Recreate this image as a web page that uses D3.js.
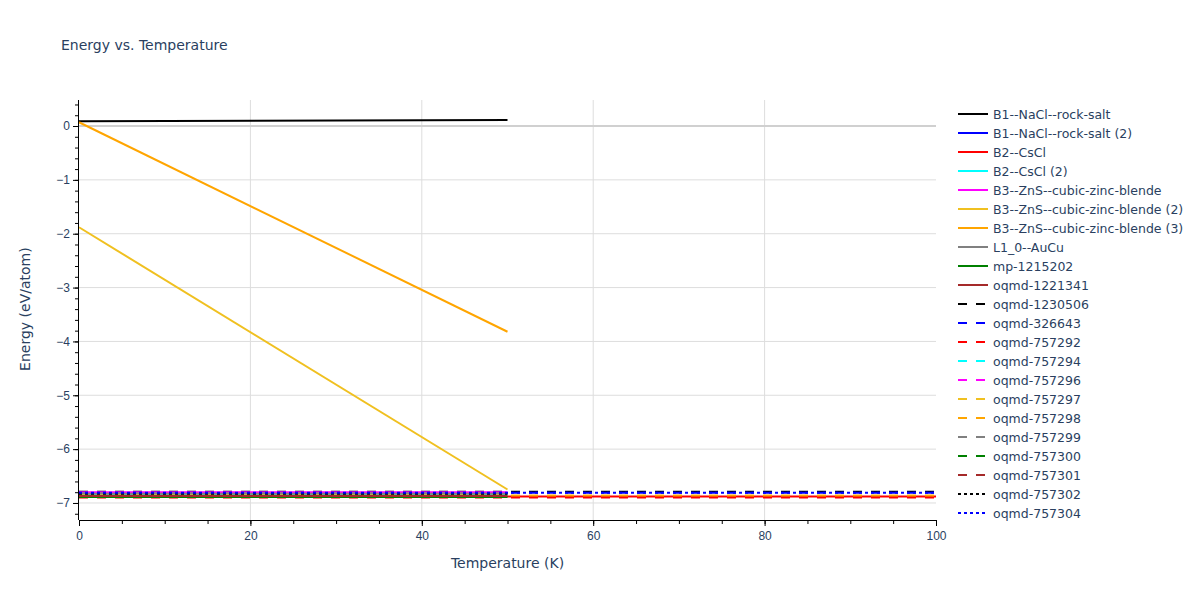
<!DOCTYPE html>
<html>
<head>
<meta charset="utf-8">
<script src="https://cdn.jsdelivr.net/npm/d3@7"></script>
<style>
  body { margin: 0; background: #fff; }
  svg { font-family: "DejaVu Sans", verdana, arial, sans-serif; }
</style>
</head>
<body>
<svg id="chart" width="1200" height="600"></svg>
<script>
// series data
let names = [
    'B1--NaCl--rock-salt', 'B1--NaCl--rock-salt (2)', 'B2--CsCl', 'B2--CsCl (2)',
    'B3--ZnS--cubic-zinc-blende', 'B3--ZnS--cubic-zinc-blende (2)', 'B3--ZnS--cubic-zinc-blende (3)',
    'L1_0--AuCu', 'mp-1215202', 'oqmd-1221341', 'oqmd-1230506', 'oqmd-326643',
    'oqmd-757292', 'oqmd-757294', 'oqmd-757296', 'oqmd-757297', 'oqmd-757298',
    'oqmd-757299', 'oqmd-757300', 'oqmd-757301', 'oqmd-757302', 'oqmd-757304'
];
let temps = [
    [0, 50], [0, 50], [0, 100], [0, 50],
    [0, 50], [0, 50], [0, 50],
    [0, 50], [0, 50], [0, 50], [0, 100], [0, 100],
    [0, 100], [0, 50], [0, 50], [0, 50], [0, 100],
    [0, 50], [0, 50], [0, 50], [0, 50], [0, 100]
];
let energies = [
    [0.09, 0.11], [-6.82, -6.82], [-6.88, -6.88], [-6.85, -6.85],
    [-6.80, -6.80], [-1.88, -6.75], [0.07, -3.82],
    [-6.83, -6.83], [-6.89, -6.89], [-6.87, -6.87], [-6.79, -6.79], [-6.81, -6.81],
    [-6.90, -6.90], [-6.85, -6.85], [-6.80, -6.80], [-6.86, -6.86], [-6.86, -6.86],
    [-6.82, -6.82], [-6.89, -6.89], [-6.87, -6.87], [-6.83, -6.83], [-6.81, -6.81]
];
let xTicks = [0, 20, 40, 60, 80, 100];
let yTicks = [0, -1, -2, -3, -4, -5, -6, -7];

// styles
let colors = [
    'black', 'blue', 'red', 'cyan', 'magenta', '#f0c020', 'orange', 'gray', 'green', 'brown',
    'black', 'blue', 'red', 'cyan', 'magenta', '#f0c020', 'orange', 'gray', 'green', 'brown',
    'black', 'blue'
];
let dashes = names.map(function (d, i) {
    if (i < 10) return null;
    if (i < 20) return '9,9';
    return '3,3';
});

let margin = {left: 79, right: 264, top: 100, bottom: 80};
let W = 1200, H = 600;
let svg = d3.select('#chart');
let textColor = '#2a3f5f';

let x = d3.scaleLinear().domain([0, 100]).range([margin.left, W - margin.right]);
let y = d3.scaleLinear().domain([-7.316, 0.483]).range([H - margin.bottom, margin.top]);

// grid
svg.append('g').selectAll('line')
    .data(xTicks.slice(1, -1))
    .enter().append('line')
    .attr('x1', d => x(d)).attr('x2', d => x(d))
    .attr('y1', margin.top).attr('y2', H - margin.bottom)
    .attr('stroke', '#dddddd').attr('stroke-width', 1);
svg.append('g').selectAll('line')
    .data(yTicks)
    .enter().append('line')
    .attr('x1', margin.left).attr('x2', W - margin.right)
    .attr('y1', d => y(d)).attr('y2', d => y(d))
    .attr('stroke', d => d === 0 ? '#d0d0d0' : '#dddddd')
    .attr('stroke-width', d => d === 0 ? 2 : 1);

// lines
let line = d3.line()
    .x(d => x(d[0]))
    .y(d => y(d[1]));

svg.append('g').selectAll('path')
    .data(names)
    .enter().append('path')
    .attr('d', (d, i) => line(temps[i].map((t, j) => [t, energies[i][j]])))
    .attr('fill', 'none')
    .attr('stroke', (d, i) => colors[i])
    .attr('stroke-width', 2)
    .attr('stroke-dasharray', (d, i) => dashes[i]);

// axes
let xMinor = d3.range(0, 101, 5);
let yMinor = d3.range(-7.2, 0.41, 0.2);

svg.append('g')
    .attr('transform', `translate(0,${H - margin.bottom})`)
    .call(d3.axisBottom(x).tickValues(xMinor).tickSize(4).tickFormat(''))
    .call(g => g.select('.domain').remove());
svg.append('g')
    .attr('transform', `translate(0,${H - margin.bottom})`)
    .call(d3.axisBottom(x).tickValues(xTicks).tickSize(6).tickPadding(5))
    .call(g => g.selectAll('text').attr('fill', textColor).attr('font-size', 12))
    .call(g => g.select('.domain').attr('d', `M${margin.left},0.5H${W - margin.right}`));

svg.append('g')
    .attr('transform', `translate(${margin.left},0)`)
    .call(d3.axisLeft(y).tickValues(yMinor).tickSize(4).tickFormat(''))
    .call(g => g.select('.domain').remove());
svg.append('g')
    .attr('transform', `translate(${margin.left},0)`)
    .call(d3.axisLeft(y).tickValues(yTicks).tickSize(6).tickPadding(3)
        .tickFormat(d => d < 0 ? '\u2212' + Math.abs(d) : d))
    .call(g => g.selectAll('text').attr('fill', textColor).attr('font-size', 12))
    .call(g => g.select('.domain').attr('d', `M-0.5,${margin.top}V${H - margin.bottom}`));

// titles
svg.append('text')
    .attr('x', 61).attr('y', 50)
    .attr('fill', textColor).attr('font-size', 14)
    .text('Energy vs. Temperature');
svg.append('text')
    .attr('x', x(50)).attr('y', 568)
    .attr('text-anchor', 'middle')
    .attr('fill', textColor).attr('font-size', 14)
    .text('Temperature (K)');
svg.append('text')
    .attr('transform', `translate(30,${y(-3.4)}) rotate(-90)`)
    .attr('text-anchor', 'middle')
    .attr('fill', textColor).attr('font-size', 14)
    .text('Energy (eV/atom)');

// legend
let legend = svg.append('g').selectAll('g')
    .data(names)
    .enter().append('g')
    .attr('transform', (d, i) => `translate(958,${114 + i * 19})`);
legend.append('line')
    .attr('x1', 0).attr('x2', 30)
    .attr('stroke', (d, i) => colors[i])
    .attr('stroke-width', 2)
    .attr('stroke-dasharray', (d, i) => dashes[i]);
legend.append('text')
    .attr('x', 35).attr('y', 4.5)
    .attr('fill', textColor).attr('font-size', 12.5)
    .text(d => d);
</script>
</body>
</html>
